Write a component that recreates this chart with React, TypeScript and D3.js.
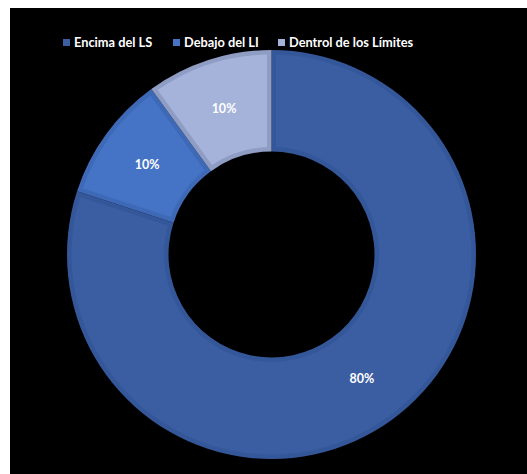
import React from "react";
import * as d3 from "d3";

const categories = ["Encima del LS", "Debajo del LI", "Dentrol de los Límites"];
const values = [80, 10, 10];
const fills = ["#3A5EA1", "#4573C5", "#A5B2D9"];
const borders = ["#34579A", "#3E69B6", "#8F9DC4"];

export default function App() {
  const W = 527, H = 474;
  const cx = 271.5, cy = 254.5;
  const R = 204.5, r = 103;
  const pie = d3.pie<number>().sort(null).value((d) => d)(values);
  const outer = d3.arc<any>().innerRadius(r).outerRadius(R);
  const inner = d3.arc<any>().innerRadius(r + 4.5).outerRadius(R - 4.5).padAngle(0.09).padRadius(100);
  const labelArc = d3.arc<any>().innerRadius(r).outerRadius(R);
  const total = d3.sum(values);
  const legendX = [63, 173, 278];
  const font = "Lato, 'Open Sans', sans-serif";
  return (
    <svg width={W} height={H} style={{ position: "absolute", left: 0, top: 0 }}>
      <rect x={0} y={0} width={W} height={H} fill="#fff" />
      <rect x={10} y={8} width={W - 10} height={H - 8} fill="#000" />
      <g transform={`translate(${cx},${cy})`}>
        {pie.map((p, i) => (
          <g key={i}>
            <path d={outer(p) as string} fill={borders[i]} />
            <path d={inner(p) as string} fill={fills[i]} />
          </g>
        ))}
        {pie.map((p, i) => {
          const [x, y] = labelArc.centroid(p);
          return (
            <text key={"l" + i} x={x} y={y} dy="0.35em" textAnchor="middle" fill="#fff"
              fontFamily={font} fontWeight="bold" fontSize={12.5}>
              {Math.round((values[i] / total) * 100)}%
            </text>
          );
        })}
      </g>
      {categories.map((c, i) => (
        <g key={"lg" + i}>
          <rect x={legendX[i]} y={39} width={7} height={7} fill={fills[i]} />
          <text x={legendX[i] + 11} y={42.5} dy="0.35em" fill="#fff" fontFamily={font}
            fontWeight="bold" fontSize={12.8}>{c}</text>
        </g>
      ))}
    </svg>
  );
}
